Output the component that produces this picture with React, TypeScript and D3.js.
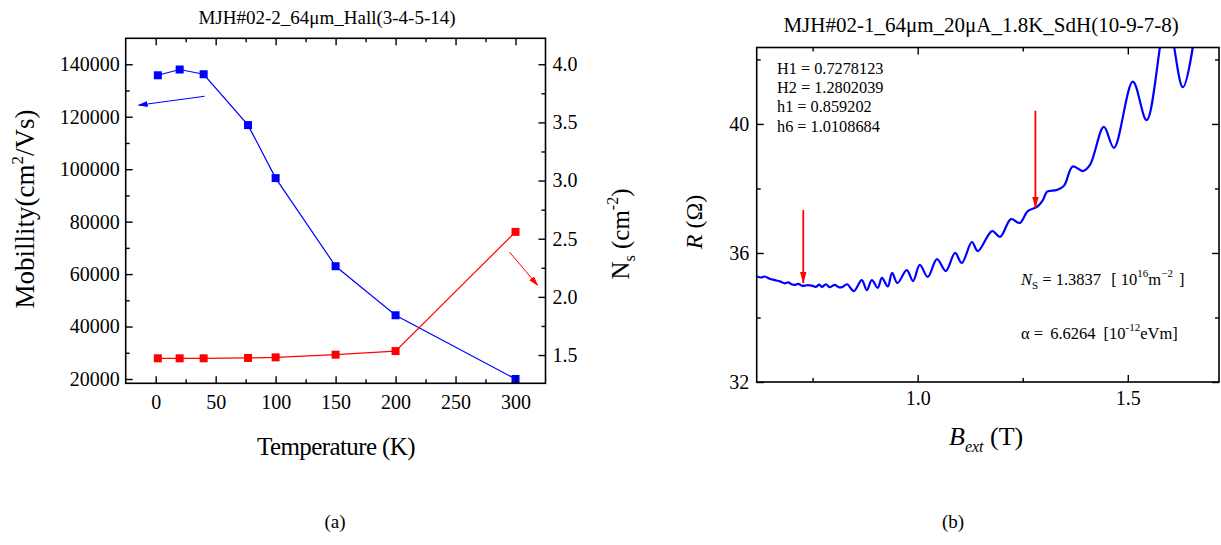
import React, { useEffect, useRef } from 'react';
import * as d3 from 'd3';

// (a) Hall data
const temperature = [1.8, 20, 40, 77, 100, 150, 200, 300];
const mobility = [135800, 138000, 136200, 116800, 96600, 63000, 44300, 20000];
const sheetDensity = [1.472, 1.472, 1.472, 1.475, 1.48, 1.503, 1.534, 2.559];

const tempTicks = [0, 50, 100, 150, 200, 250, 300];
const tempMinor = [25, 75, 125, 175, 225, 275];
const mobTicks = [20000, 40000, 60000, 80000, 100000, 120000, 140000];
const mobMinor = [30000, 50000, 70000, 90000, 110000, 130000];
const nsTicks = [1.5, 2.0, 2.5, 3.0, 3.5, 4.0];
const nsMinor = [1.75, 2.25, 2.75, 3.25, 3.75];

// (b) SdH trace (peaks, troughs and bends)
const fieldB = [
  0.617, 0.628, 0.636, 0.648, 0.66, 0.672, 0.684, 0.692, 0.7, 0.707, 0.716, 0.726, 0.736, 0.748,
  0.758, 0.766, 0.772, 0.782, 0.79, 0.803, 0.812, 0.82, 0.832, 0.848, 0.867, 0.879, 0.891, 0.905,
  0.915, 0.929, 0.939, 0.952, 0.974, 0.989, 1.005, 1.024, 1.046, 1.067, 1.089, 1.105, 1.129, 1.143,
  1.177, 1.196, 1.222, 1.243, 1.262, 1.284, 1.298, 1.308, 1.331, 1.348, 1.369, 1.393, 1.41, 1.443,
  1.467, 1.512, 1.545, 1.593, 1.631, 1.665,
];
const resistance = [
  35.27, 35.24, 35.27, 35.2, 35.16, 35.12, 35.06, 35.09, 35.03, 35.01, 35.04, 34.98, 35.0, 34.99,
  34.95, 35.02, 34.95, 35.03, 34.94, 35.01, 34.94, 34.94, 35.03, 34.82, 35.16, 34.85, 35.16, 34.92,
  35.23, 34.96, 35.38, 35.07, 35.47, 35.13, 35.63, 35.26, 35.81, 35.44, 36.0, 35.69, 36.34, 36.06,
  36.68, 36.5, 37.05, 36.93, 37.3, 37.43, 37.64, 37.9, 37.95, 38.08, 38.68, 38.54, 38.73, 39.91,
  39.26, 41.31, 40.12, 43.3, 41.14, 43.3,
];
const bTicks = [1.0, 1.5];
const bMinor = [0.75, 1.25];
const rTicks = [32, 36, 40];
const rMinor = [34, 38, 42];
// arrows at H1 and H2: [field, from R, to R]
const fieldArrows = [
  [0.7278, 37.33, 35.07],
  [1.2802, 40.41, 37.4],
];
const fitLines = ['H1 = 0.7278123', 'H2 = 1.2802039', 'h1 = 0.859202', 'h6 = 1.0108684'];

const FONT = '"Liberation Serif", "Times New Roman", serif';

export default function App() {
  const axA = useRef<SVGGElement>(null);
  const axB = useRef<SVGGElement>(null);

  // panel (a) geometry
  const a = { left: 125.7, right: 545.5, top: 38.3, bottom: 383.3 };
  const xT = d3.scaleLinear().domain([-25, 325]).range([a.left, a.right]);
  const yMob = d3.scaleLinear().domain([18360, 149900]).range([a.bottom, a.top]);
  const yNs = d3.scaleLinear().domain([1.257, 4.223]).range([a.bottom, a.top]);

  // panel (b) geometry
  const b = { left: 756.7, right: 1219, top: 47.5, bottom: 382 };
  const xB = d3.scaleLinear().domain([0.617, 1.717]).range([b.left, b.right]);
  const yR = d3.scaleLinear().domain([32, 42.37]).range([b.bottom, b.top]);

  useEffect(() => {
    const styleAxis = (sel: any, size: number) => {
      sel.select('.domain').remove();
      sel.selectAll('line').attr('stroke', '#000').attr('stroke-width', 1.4);
      sel.selectAll('text').attr('font-family', FONT).attr('font-size', size).attr('fill', '#000');
    };
    const put = (root: any, tr: string, axis: any, size = 20) => {
      const g = root.append('g').attr('transform', tr).call(axis);
      styleAxis(g, size);
    };

    const ga = d3.select(axA.current);
    ga.selectAll('*').remove();
    const blank = () => '';
    put(ga, `translate(0,${a.bottom})`, d3.axisBottom(xT).tickValues(tempTicks).tickSizeInner(-7).tickSizeOuter(0).tickPadding(11.5).tickFormat(d3.format('d')));
    put(ga, `translate(0,${a.bottom})`, d3.axisBottom(xT).tickValues(tempMinor).tickSizeInner(-4).tickSizeOuter(0).tickFormat(blank));
    put(ga, `translate(0,${a.top})`, d3.axisTop(xT).tickValues(tempTicks).tickSizeInner(-7).tickSizeOuter(0).tickFormat(blank));
    put(ga, `translate(0,${a.top})`, d3.axisTop(xT).tickValues(tempMinor).tickSizeInner(-4).tickSizeOuter(0).tickFormat(blank));
    put(ga, `translate(${a.left},0)`, d3.axisLeft(yMob).tickValues(mobTicks).tickSizeInner(-7).tickSizeOuter(0).tickPadding(6).tickFormat(d3.format('d')));
    put(ga, `translate(${a.left},0)`, d3.axisLeft(yMob).tickValues(mobMinor).tickSizeInner(-4).tickSizeOuter(0).tickFormat(blank));
    put(ga, `translate(${a.right},0)`, d3.axisRight(yNs).tickValues(nsTicks).tickSizeInner(-7).tickSizeOuter(0).tickPadding(7).tickFormat(d3.format('.1f')));
    put(ga, `translate(${a.right},0)`, d3.axisRight(yNs).tickValues(nsMinor).tickSizeInner(-4).tickSizeOuter(0).tickFormat(blank));

    const gb = d3.select(axB.current);
    gb.selectAll('*').remove();
    put(gb, `translate(0,${b.bottom})`, d3.axisBottom(xB).tickValues(bTicks).tickSizeInner(-7).tickSizeOuter(0).tickPadding(9).tickFormat(d3.format('.1f')));
    put(gb, `translate(0,${b.bottom})`, d3.axisBottom(xB).tickValues(bMinor).tickSizeInner(-4).tickSizeOuter(0).tickFormat(blank));
    put(gb, `translate(0,${b.top})`, d3.axisTop(xB).tickValues(bTicks).tickSizeInner(-7).tickSizeOuter(0).tickFormat(blank));
    put(gb, `translate(0,${b.top})`, d3.axisTop(xB).tickValues(bMinor).tickSizeInner(-4).tickSizeOuter(0).tickFormat(blank));
    put(gb, `translate(${b.left},0)`, d3.axisLeft(yR).tickValues(rTicks).tickSizeInner(-7).tickSizeOuter(0).tickPadding(7.5).tickFormat(d3.format('d')));
    put(gb, `translate(${b.left},0)`, d3.axisLeft(yR).tickValues(rMinor).tickSizeInner(-4).tickSizeOuter(0).tickFormat(blank));
    put(gb, `translate(${b.right},0)`, d3.axisRight(yR).tickValues(rTicks).tickSizeInner(-7).tickSizeOuter(0).tickFormat(blank));
    put(gb, `translate(${b.right},0)`, d3.axisRight(yR).tickValues(rMinor).tickSizeInner(-4).tickSizeOuter(0).tickFormat(blank));
  }, []);

  const mobLine = d3.line<number>().x((_, i) => xT(temperature[i])).y((d) => yMob(d));
  const nsLine = d3.line<number>().x((_, i) => xT(temperature[i])).y((d) => yNs(d));
  const sdhLine = d3.line<number>().x((d) => xB(d)).y((_, i) => yR(resistance[i])).curve(d3.curveCatmullRom.alpha(0.5));

  const sq = 8;

  return (
    <svg width={1221} height={545} style={{ position: 'absolute', left: 0, top: 0, background: '#fff' }} fontFamily={FONT}>
      <defs>
        <marker id="headBlue" markerUnits="userSpaceOnUse" markerWidth={10} markerHeight={8} refX={9} refY={4} orient="auto">
          <path d="M0,1 L10,4 L0,7 Z" fill="#0000ff" />
        </marker>
        <marker id="headRed" markerUnits="userSpaceOnUse" markerWidth={10} markerHeight={8} refX={9} refY={4} orient="auto">
          <path d="M0,1 L10,4 L0,7 Z" fill="#ff0000" />
        </marker>
        <marker id="headRedB" markerUnits="userSpaceOnUse" markerWidth={12} markerHeight={8} refX={11} refY={4} orient="auto">
          <path d="M0,0.8 L12,4 L0,7.2 Z" fill="#ff0000" />
        </marker>
        <clipPath id="clipB">
          <rect x={b.left} y={b.top} width={b.right - b.left} height={b.bottom - b.top} />
        </clipPath>
      </defs>

      {/* ---------- panel (a) ---------- */}
      <text x={327} y={24} textAnchor="middle" fontSize={19}>MJH#02-2_64μm_Hall(3-4-5-14)</text>
      <path d={mobLine(mobility) || ''} fill="none" stroke="#0000ff" strokeWidth={1.2} />
      {mobility.map((m, i) => (
        <rect key={'m' + i} x={xT(temperature[i]) - sq / 2} y={yMob(m) - sq / 2} width={sq} height={sq} fill="#0000ff" />
      ))}
      <path d={nsLine(sheetDensity) || ''} fill="none" stroke="#ff0000" strokeWidth={1.2} />
      {sheetDensity.map((n, i) => (
        <rect key={'n' + i} x={xT(temperature[i]) - sq / 2} y={yNs(n) - sq / 2} width={sq} height={sq} fill="#ff0000" />
      ))}
      <line x1={xT(40.8)} y1={yMob(127800)} x2={xT(-14.2)} y2={yMob(124400)} stroke="#0000ff" strokeWidth={1} markerEnd="url(#headBlue)" />
      <line x1={xT(295)} y1={yNs(2.385)} x2={xT(318.3)} y2={yNs(2.101)} stroke="#ff0000" strokeWidth={1} markerEnd="url(#headRed)" />
      <rect x={a.left} y={a.top} width={a.right - a.left} height={a.bottom - a.top} fill="none" stroke="#000" strokeWidth={1.6} />
      <g ref={axA} />
      <text transform="translate(34,209) rotate(-90)" textAnchor="middle" fontSize={27}>
        Mobillity(cm<tspan dy={-11} fontSize={17}>2</tspan><tspan dy={11}>/Vs)</tspan>
      </text>
      <text transform="translate(629,234) rotate(-90)" textAnchor="middle" fontSize={25}>
        N<tspan dy={6} fontSize={16}>s</tspan><tspan dy={-6}> (cm</tspan><tspan dy={-11} fontSize={16}>-2</tspan><tspan dy={11}>)</tspan>
      </text>
      <text x={336} y={455} textAnchor="middle" fontSize={25} letterSpacing={-0.6}>Temperature (K)</text>
      <text x={335} y={528} textAnchor="middle" fontSize={19}>(a)</text>

      {/* ---------- panel (b) ---------- */}
      <text x={981} y={32} textAnchor="middle" fontSize={21}>MJH#02-1_64μm_20μA_1.8K_SdH(10-9-7-8)</text>
      <g clipPath="url(#clipB)">
        <path d={sdhLine(fieldB) || ''} fill="none" stroke="#0000ff" strokeWidth={2.2} strokeLinejoin="round" />
      </g>
      {fieldArrows.map((f, i) => (
        <line key={'fa' + i} x1={xB(f[0])} y1={yR(f[1])} x2={xB(f[0])} y2={yR(f[2])} stroke="#ff0000" strokeWidth={1.8} markerEnd="url(#headRedB)" />
      ))}
      {fitLines.map((t, i) => (
        <text key={'ft' + i} x={777} y={74 + i * 19.2} fontSize={16.3}>{t}</text>
      ))}
      <text x={1021} y={285} fontSize={16.5}>
        <tspan fontStyle="italic">N</tspan><tspan dy={4} fontSize={11}>S</tspan><tspan dy={-4}> = 1.3837 </tspan>
        <tspan dx={6}>[ 10</tspan><tspan dy={-8} fontSize={11}>16</tspan><tspan dy={8}>m</tspan><tspan dy={-8} fontSize={11}>−2</tspan><tspan dy={8} dx={2}> ]</tspan>
      </text>
      <text x={1021} y={339} fontSize={16.5}>
        α = <tspan dx={3}>6.6264</tspan><tspan dx={8}>[10</tspan><tspan dy={-8} fontSize={11}>-12</tspan><tspan dy={8}>eVm]</tspan>
      </text>
      <rect x={b.left} y={b.top} width={b.right - b.left} height={b.bottom - b.top} fill="none" stroke="#000" strokeWidth={1.6} />
      <g ref={axB} />
      <text transform="translate(702,222) rotate(-90)" textAnchor="middle" fontSize={24}>
        <tspan fontStyle="italic">R</tspan> (Ω)
      </text>
      <text x={949} y={445} fontSize={26}>
        <tspan fontStyle="italic">B</tspan><tspan dy={7} fontSize={16} fontStyle="italic">ext</tspan><tspan dy={-7}> (T)</tspan>
      </text>
      <text x={953} y={528} textAnchor="middle" fontSize={19}>(b)</text>
    </svg>
  );
}
